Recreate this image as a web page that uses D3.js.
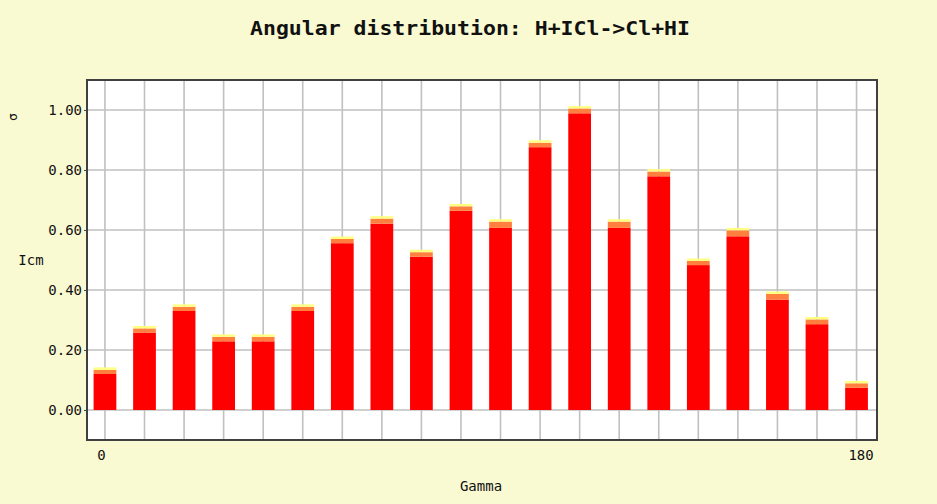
<!DOCTYPE html>
<html>
<head>
<meta charset="utf-8">
<script src="https://cdn.jsdelivr.net/npm/d3@7"></script>
<style>
  body { margin: 0; background: #fafad2; }
  svg { display: block; }
  text { font-family: "DejaVu Sans Mono", "Liberation Mono", monospace; fill: #111; }
</style>
</head>
<body>
<svg id="chart" width="937" height="504"></svg>
<script>
// bin centres, degrees (20 bins over 0..180)
const gamma = d3.range(20).map(i => i * 180 / 19);
// red part of each bar (Icm)
const icm = [0.120, 0.258, 0.330, 0.229, 0.229, 0.330, 0.556, 0.621, 0.511, 0.664,
             0.607, 0.876, 0.989, 0.607, 0.779, 0.483, 0.579, 0.368, 0.286, 0.074];
// orange band above the red
const bandOrange = [0.014, 0.014, 0.014, 0.015, 0.015, 0.014, 0.014, 0.017, 0.015, 0.015,
                    0.021, 0.015, 0.016, 0.021, 0.016, 0.014, 0.020, 0.019, 0.016, 0.015];
// yellow band on top
const bandYellow = [0.008, 0.008, 0.008, 0.008, 0.008, 0.008, 0.008, 0.008, 0.008, 0.008,
                    0.008, 0.008, 0.008, 0.008, 0.008, 0.008, 0.008, 0.008, 0.008, 0.008];
const yTicks = [0, 0.2, 0.4, 0.6, 0.8, 1.0];
const xTickLabels = [0, 180];

(function() {
  const svg = d3.select('#chart');
  const W = 937, H = 504;
  const plot = {left: 87, right: 877, top: 80, bottom: 440};

  svg.append('rect').attr('width', W).attr('height', H).attr('fill', '#fafad2');

  const x = d3.scaleLinear().domain([-4.3, 184.9]).range([plot.left, plot.right]);
  const y = d3.scaleLinear().domain([-0.1, 1.1]).range([plot.bottom, plot.top]);

  svg.append('rect')
    .attr('x', plot.left).attr('y', plot.top)
    .attr('width', plot.right - plot.left).attr('height', plot.bottom - plot.top)
    .attr('fill', '#fff');

  // grid
  const grid = svg.append('g').attr('stroke', '#c0c0c0').attr('stroke-width', 1.6);
  grid.selectAll('line.v').data(gamma).enter().append('line')
    .attr('x1', d => x(d)).attr('x2', d => x(d))
    .attr('y1', plot.top).attr('y2', plot.bottom);
  grid.selectAll('line.h').data(yTicks).enter().append('line')
    .attr('x1', plot.left).attr('x2', plot.right)
    .attr('y1', d => y(d)).attr('y2', d => y(d));

  // stacked bars
  const bw = (x(gamma[1]) - x(gamma[0])) * 0.575;
  const rows = gamma.map((g, i) => ({
    g: g,
    parts: [
      {y0: 0, y1: icm[i], c: '#ff0000'},
      {y0: icm[i], y1: icm[i] + bandOrange[i], c: '#ff7f3f'},
      {y0: icm[i] + bandOrange[i], y1: icm[i] + bandOrange[i] + bandYellow[i], c: '#ffff80'}
    ]
  }));
  const bars = svg.append('g').selectAll('g').data(rows).enter().append('g');
  bars.selectAll('rect').data(d => d.parts.map(p => Object.assign({g: d.g}, p)))
    .enter().append('rect')
    .attr('x', d => x(d.g) - bw / 2)
    .attr('width', bw)
    .attr('y', d => y(d.y1))
    .attr('height', d => y(d.y0) - y(d.y1))
    .attr('fill', d => d.c);

  // frame
  svg.append('rect')
    .attr('x', plot.left).attr('y', plot.top)
    .attr('width', plot.right - plot.left).attr('height', plot.bottom - plot.top)
    .attr('fill', 'none').attr('stroke', '#404040').attr('stroke-width', 2);

  // y axis
  const yAxis = d3.axisLeft(y).tickValues(yTicks).tickFormat(d3.format('.2f'))
    .tickSize(3).tickPadding(2);
  const ya = svg.append('g').attr('transform', 'translate(' + plot.left + ',0)').call(yAxis);
  ya.select('.domain').remove();
  ya.selectAll('line').attr('stroke', '#444');
  ya.selectAll('text').style('font-family', '"DejaVu Sans Mono", monospace')
    .style('font-size', '14px').attr('fill', '#111');

  // x axis
  const xAxis = d3.axisBottom(x).tickValues(xTickLabels).tickFormat(d3.format('d'))
    .tickSize(0).tickPadding(10);
  const xa = svg.append('g').attr('transform', 'translate(0,' + plot.bottom + ')').call(xAxis);
  xa.select('.domain').remove();
  xa.selectAll('text').style('font-family', '"DejaVu Sans Mono", monospace')
    .style('font-size', '14px').attr('fill', '#111');
  xa.selectAll('.tick').filter(d => d === 0).select('text').attr('dx', -4);
  xa.selectAll('.tick').filter(d => d === 180).select('text').attr('dx', 4);

  // titles
  svg.append('text').attr('x', 470).attr('y', 35).attr('text-anchor', 'middle')
    .style('font-size', '20px').style('font-weight', '600')
    .attr('textLength', 440).attr('lengthAdjust', 'spacingAndGlyphs')
    .text('Angular distribution: H+ICl->Cl+HI');
  svg.append('text').attr('x', 31).attr('y', 265).attr('text-anchor', 'middle')
    .style('font-size', '14px').text('Icm');
  svg.append('text').attr('x', 481).attr('y', 491).attr('text-anchor', 'middle')
    .style('font-size', '14px').text('Gamma');
  svg.append('text').attr('transform', 'translate(17,117) rotate(-90)')
    .attr('text-anchor', 'middle').style('font-size', '13px').text('σ');
})();
</script>
</body>
</html>
